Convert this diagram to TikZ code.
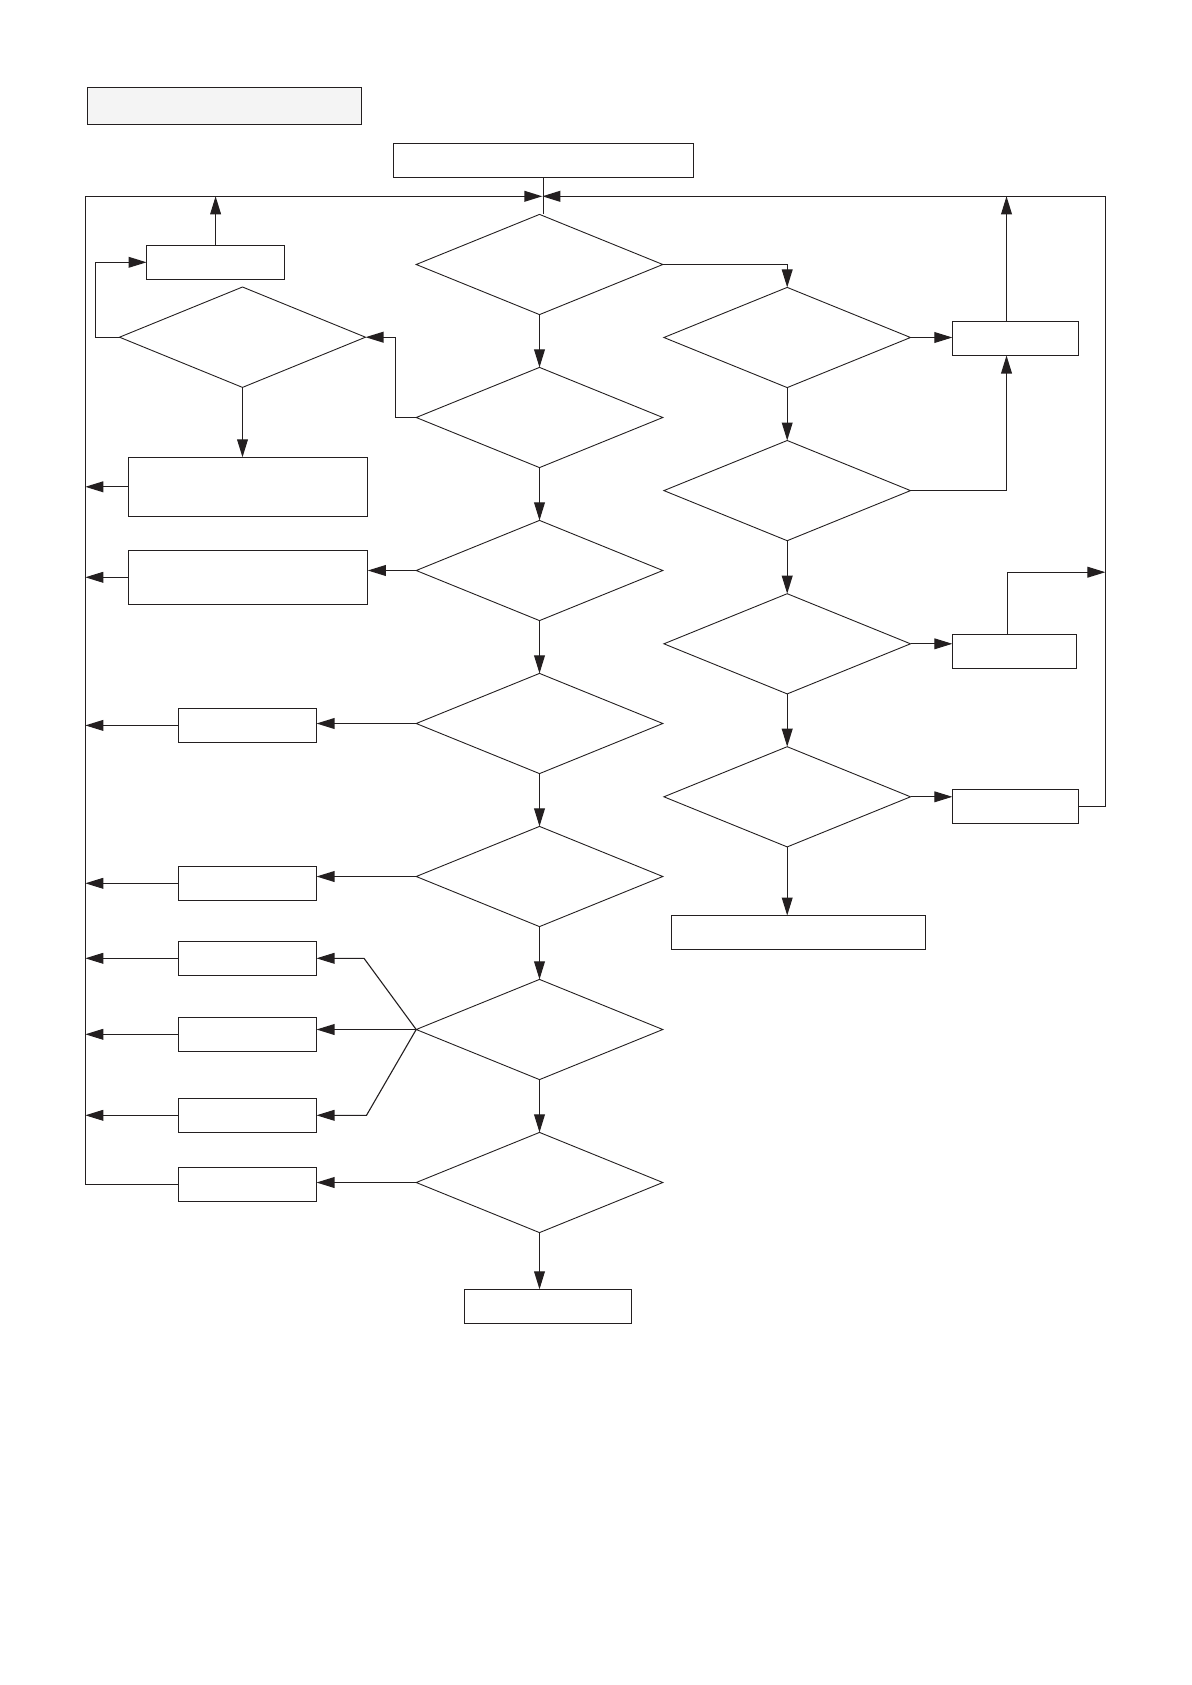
\documentclass[tikz,border=0pt]{standalone}
\usetikzlibrary{calc,arrows.meta,shapes.geometric}
\definecolor{ink}{RGB}{35,31,32}
\definecolor{titlefill}{RGB}{244,244,244}
\tikzset{
	procbox/.style={draw=ink, line width=0.65pt, inner sep=0pt, outer sep=0pt},
	titlebox/.style={procbox, fill=titlefill},
	decision/.style={diamond, draw=ink, line width=0.45pt, inner sep=0pt, outer sep=0pt, minimum width=123.3pt, minimum height=50.1pt},
	flow/.style={draw=ink, line width=0.55pt, -{Triangle[length=9pt,width=5.4pt]}},
	loopline/.style={draw=ink, line width=0.7pt},
	loopflow/.style={loopline, -{Triangle[length=9pt,width=5.4pt]}},
}

\begin{document}
\begin{tikzpicture}[x=0.5pt, y=-0.5pt]
			%%%%% START %%%%%
			\useasboundingbox (0,0) rectangle (1191,1685);
			
			\node[titlebox, minimum width=137.2pt, minimum height=18.55pt] (title) at (224.5, 105.9) {};
			\node[procbox, minimum width=150.1pt, minimum height=16.85pt] (start) at (543.5, 160.4) {};
			
			\coordinate (tl) at (85.3, 196.3);
			\coordinate (tr) at (1105.4, 196.3);
			\coordinate (join) at (542.3, 196.3);
			
			% main column
			\node[decision] (d1) at (539.5, 264.5) {};
			\node[decision] (d2) at (539.5, 417.5) {};
			\node[decision] (d3) at (539.5, 570.5) {};
			\node[decision] (d4) at (539.5, 723.5) {};
			\node[decision] (d5) at (539.5, 876.5) {};
			\node[decision] (d6) at (539.5, 1029.5) {};
			\node[decision] (d7) at (539.5, 1182.5) {};
			\node[procbox, minimum width=83.4pt, minimum height=17pt] (done) at (548.1, 1306.3) {};
			
			% left column
			\node[procbox, minimum width=69.05pt, minimum height=17.05pt] (l1) at (215.6, 262.3) {};
			\node[decision, minimum width=123pt, minimum height=50.2pt] (dl) at (242.5, 337.2) {};
			\node[procbox, minimum width=119.6pt, minimum height=29.5pt] (l2) at (248.2, 486.8) {};
			\node[procbox, minimum width=119.6pt, minimum height=27pt] (l3) at (248.2, 577.3) {};
			\node[procbox, minimum width=69.1pt, minimum height=17pt] (l4) at (247.4, 725.4) {};
			\node[procbox, minimum width=69.1pt, minimum height=17pt] (l5) at (247.4, 883.3) {};
			\node[procbox, minimum width=69.1pt, minimum height=17pt] (l6) at (247.4, 958.3) {};
			\node[procbox, minimum width=69.1pt, minimum height=17pt] (l7) at (247.4, 1034.3) {};
			\node[procbox, minimum width=69.1pt, minimum height=17pt] (l8) at (247.4, 1115.3) {};
			\node[procbox, minimum width=69.1pt, minimum height=17pt] (l9) at (247.4, 1184.3) {};
			
			% right column
			\node[decision] (r1d) at (787.2, 337.5) {};
			\node[decision] (r2d) at (787.2, 490.6) {};
			\node[decision] (r3d) at (787.2, 643.8) {};
			\node[decision] (r4d) at (787.2, 796.8) {};
			\node[procbox, minimum width=63.15pt, minimum height=17pt] (r1) at (1015.5, 338.5) {};
			\node[procbox, minimum width=62.15pt, minimum height=16.85pt] (r2) at (1014.5, 651.5) {};
			\node[procbox, minimum width=63.15pt, minimum height=16.8pt] (r3) at (1015.5, 806.4) {};
			\node[procbox, minimum width=127pt, minimum height=17pt] (r4) at (798.5, 932.5) {};
			
			% return loops
			\draw[loopline] (start.south) -- (start.south |- d1.north);
			\draw[loopflow] (l9.west) -| (tl) -- (join);
			\draw[loopflow] (r3.east) -| (tr) -- (join);
			
			\draw[flow] (d1) -- (d2);
			\draw[flow] (d2) -- (d3);
			\draw[flow] (d3) -- (d4);
			\draw[flow] (d4) -- (d5);
			\draw[flow] (d5) -- (d6);
			\draw[flow] (d6) -- (d7);
			\draw[flow] (d7.south) -- (d7.south |- done.north);
			
			\draw[flow] (l1.north) -- (l1.north |- tl);
			\draw[flow] (dl.west) -- ++(-24, 0) |- (l1.west);
			\draw[flow] (dl.south) -- (dl.south |- l2.north);
			\draw[flow] (d2.west) -- ++(-21, 0) |- (dl.east);
			\draw[flow] (d3.west) -- (d3.west -| l3.east);
			\draw[flow] (d4.west) -- (d4.west -| l4.east);
			\draw[flow] (d5.west) -- (d5.west -| l5.east);
			
			\coordinate (f6) at (364, 958.3);
			\coordinate (f8) at (366.5, 1115.3);
			\draw[flow] (d6.west) -- (f6) -- (l6.east);
			\draw[flow] (d6.west) -- (d6.west -| l7.east);
			\draw[flow] (d6.west) -- (f8) -- (l8.east);
			\draw[flow] (d7.west) -- (d7.west -| l9.east);
			
			\draw[flow] (l2.west) -- (l2.west -| tl);
			\draw[flow] (l3.west) -- (l3.west -| tl);
			\draw[flow] (l4.west) -- (l4.west -| tl);
			\draw[flow] (l5.west) -- (l5.west -| tl);
			\draw[flow] (l6.west) -- (l6.west -| tl);
			\draw[flow] (l7.west) -- (l7.west -| tl);
			\draw[flow] (l8.west) -- (l8.west -| tl);
			
			\draw[flow] (d1.east) -| (r1d.north);
			\draw[flow] (r1d) -- (r2d);
			\draw[flow] (r2d) -- (r3d);
			\draw[flow] (r3d) -- (r4d);
			\draw[flow] (r4d.south) -- (r4d.south |- r4.north);
			
			\draw[flow] (r1d.east) -- (r1d.east -| r1.west);
			\draw[flow] ($(r1.north)+(-9, 0)$) -- ($(r1.north |- tr)+(-9, 0)$);
			\draw[flow] (r2d.east) -| ($(r1.south)+(-9, 0)$);
			\draw[flow] (r3d.east) -- (r3d.east -| r2.west);
			\coordinate (r2up) at (1105.4, 572.2);
			\draw[flow] ($(r2.north)+(-7, 0)$) |- (r2up);
			\draw[flow] (r4d.east) -- (r4d.east -| r3.west);
			
			%%%%% END %%%%%
\end{tikzpicture}
\end{document}
